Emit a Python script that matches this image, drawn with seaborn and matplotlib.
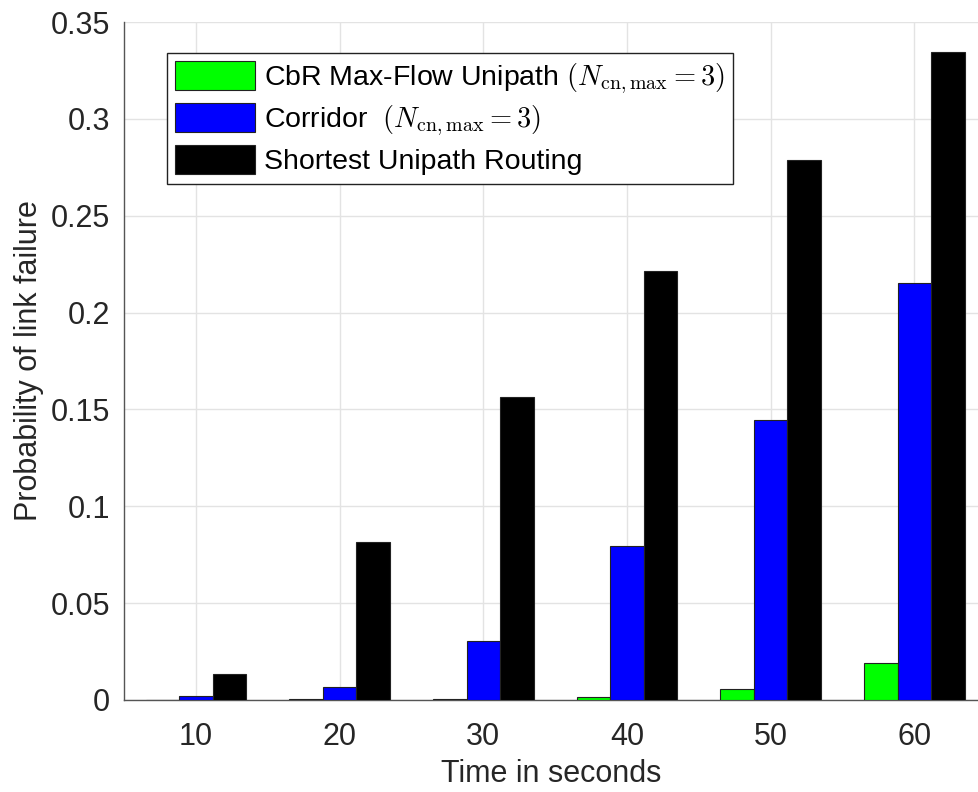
import numpy as np
import pandas as pd
import matplotlib
matplotlib.use("Agg")
import matplotlib.pyplot as plt
import seaborn as sns

# --- data ---
times = ["10", "20", "30", "40", "50", "60"]
cbr_maxflow = [0.0002, 0.0003, 0.0005, 0.0014, 0.0058, 0.0189]
corridor = [0.0019, 0.0069, 0.0307, 0.0795, 0.1445, 0.2152]
shortest = [0.0133, 0.0814, 0.1566, 0.2215, 0.2790, 0.3345]

series_names = [
    r"CbR Max-Flow Unipath $(N_{\mathrm{cn,max}} = 3)$",
    r"Corridor  $(N_{\mathrm{cn,max}} = 3)$",
    "Shortest Unipath Routing",
]
series_colors = ["#00ff00", "#0000ff", "#000000"]

df = pd.DataFrame({
    "time": times * 3,
    "prob": cbr_maxflow + corridor + shortest,
    "method": [series_names[0]] * 6 + [series_names[1]] * 6 + [series_names[2]] * 6,
})

sns.set_theme(style="white")
plt.rcParams["font.family"] = ["Liberation Sans", "DejaVu Sans"]
plt.rcParams["mathtext.fontset"] = "cm"
text_col = "#262626"

fig = plt.figure(figsize=(9.79, 7.92), dpi=100)
ax = fig.add_axes([0.1267, 0.1162, 0.8733, 0.856])

sns.barplot(data=df, x="time", y="prob", hue="method", hue_order=series_names,
            palette=series_colors, width=0.7, gap=0, saturation=1,
            edgecolor="#222222", linewidth=0.8, ax=ax, zorder=3)

ax.set_ylim(0, 0.35)
ax.set_xlim(-0.5, 5.45)
yt = np.arange(0, 0.351, 0.05)
ax.set_yticks(yt)
ax.set_yticklabels([f"{v:g}" for v in yt])
ax.grid(True, color="#e3e3e3", linewidth=1, zorder=0)
ax.set_axisbelow(True)

for s in ["top", "right"]:
    ax.spines[s].set_visible(False)
for s in ["left", "bottom"]:
    ax.spines[s].set_color("#555555")
    ax.spines[s].set_linewidth(1.0)

ax.tick_params(axis="both", direction="in", length=5, width=0.8, color="#555555",
               labelsize=22, labelcolor=text_col)
ax.tick_params(axis="y", pad=10)
ax.tick_params(axis="x", pad=16)
ax.set_xlabel("Time in seconds", fontsize=22, color=text_col, labelpad=5)
ax.set_ylabel("Probability of link failure", fontsize=22, color=text_col, labelpad=5)

leg = ax.legend(loc="upper left", bbox_to_anchor=(0.05, 0.955), borderaxespad=0,
                fontsize=20.5, handlelength=2.8, handleheight=1.2, handletextpad=0.3,
                labelspacing=0.25, borderpad=0.3, fancybox=False, framealpha=1,
                edgecolor="#222222")
leg.get_frame().set_linewidth(1.0)
for t in leg.get_texts():
    t.set_color("#000000")

fig.savefig("out.png", dpi=100)
